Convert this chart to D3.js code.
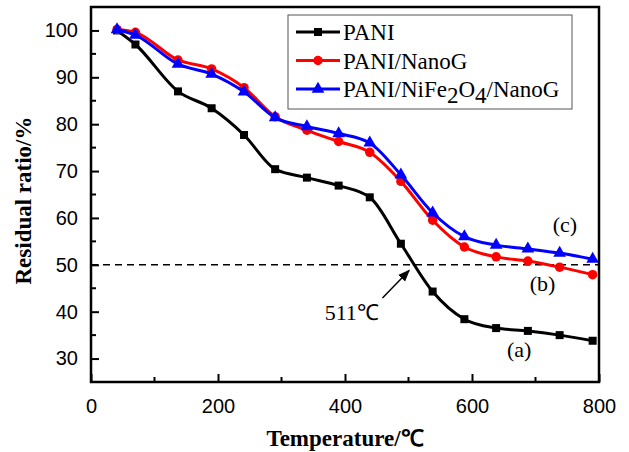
<!DOCTYPE html>
<html>
<head>
<meta charset="utf-8">
<script src="https://cdn.jsdelivr.net/npm/d3@7"></script>
<style>
  body { margin: 0; background: #fff; }
  svg { display: block; }
</style>
</head>
<body>
<svg id="chart" width="629" height="452"></svg>
<script>
// temperatures (°C) shared by all three runs
const temps = [41, 70, 137, 190, 241, 290, 340, 390, 439, 488, 538, 588, 638, 688, 738, 790]
const pani = [100, 97.0, 87.0, 83.4, 77.7, 70.4, 68.6, 66.9, 64.4, 54.5, 44.3, 38.4, 36.5, 35.9, 35.0, 33.8]
const paniNanoG = [100.2, 99.6, 93.7, 91.8, 87.8, 81.6, 78.7, 76.3, 74.0, 67.8, 59.5, 53.8, 51.7, 50.8, 49.5, 47.9]
const paniNiFe = [100.2, 99.0, 92.8, 90.7, 86.9, 81.4, 79.5, 78.0, 76.0, 69.2, 61.1, 56.0, 54.2, 53.4, 52.5, 51.2]
const xTicks = [0, 200, 400, 600, 800]
const yTicks = [30, 40, 50, 60, 70, 80, 90, 100]

const series = [
  { name: "PANI", values: pani, color: "#000000", marker: "square" },
  { name: "PANI/NanoG", values: paniNanoG, color: "#ff0000", marker: "circle" },
  { name: "PANI/NiFe2O4/NanoG", values: paniNiFe, color: "#0000ff", marker: "triangle" }
]

const margin = { left: 91, top: 7, right: 30, bottom: 70 }
const width = 629, height = 452
const svg = d3.select("#chart")

const x = d3.scaleLinear().domain([0, 800]).range([margin.left, width - margin.right])
const y = d3.scaleLinear().domain([25, 105]).range([height - margin.bottom, margin.top])

const sans = "'Liberation Sans', Arial, sans-serif"
const serif = "'Liberation Serif', 'Times New Roman', serif"

// dashed 50% reference line
svg.append("line")
  .attr("x1", x(0)).attr("x2", x(800))
  .attr("y1", y(50)).attr("y2", y(50))
  .attr("stroke", "#000").attr("stroke-width", 1.5)
  .attr("stroke-dasharray", "7,5")

function markerPath(type) {
  if (type === "square") return d3.symbol(d3.symbolSquare, 64)()
  if (type === "circle") return d3.symbol(d3.symbolCircle, 70)()
  return d3.symbol(d3.symbolTriangle, 70)()
}

const line = d3.line()
  .x((d, i) => x(temps[i]))
  .y(d => y(d))
  .curve(d3.curveMonotoneX)

for (const s of series) {
  svg.append("path")
    .datum(s.values)
    .attr("fill", "none")
    .attr("stroke", s.color)
    .attr("stroke-width", 3)
    .attr("d", line)

  svg.selectAll(null)
    .data(s.values)
    .enter()
    .append("path")
    .attr("transform", (d, i) => `translate(${x(temps[i])},${y(d)})`)
    .attr("d", markerPath(s.marker))
    .attr("fill", s.color)
}

// axes: ticks point inward
const xAxis = d3.axisBottom(x).tickValues(xTicks).tickSizeInner(-8).tickSizeOuter(0).tickPadding(17)
const yAxis = d3.axisLeft(y).tickValues(yTicks).tickSizeInner(-8).tickSizeOuter(0).tickPadding(13)

const gx = svg.append("g").attr("transform", `translate(0,${y(25)})`).call(xAxis)
const gy = svg.append("g").attr("transform", `translate(${x(0)},0)`).call(yAxis)

for (const g of [gx, gy]) {
  g.select(".domain").remove()
  g.selectAll(".tick line").attr("stroke", "#000").attr("stroke-width", 2)
  g.selectAll(".tick text")
    .attr("fill", "#000")
    .style("font-family", sans)
    .style("font-size", "20px")
}
gx.selectAll(".tick text").attr("dy", "0.71em")

// minor ticks
svg.append("g").selectAll("line")
  .data([100, 300, 500, 700])
  .enter().append("line")
  .attr("x1", d => x(d)).attr("x2", d => x(d))
  .attr("y1", y(25)).attr("y2", y(25) - 5)
  .attr("stroke", "#000").attr("stroke-width", 2)

svg.append("g").selectAll("line")
  .data([35, 45, 55, 65, 75, 85, 95])
  .enter().append("line")
  .attr("x1", x(0)).attr("x2", x(0) + 5)
  .attr("y1", d => y(d)).attr("y2", d => y(d))
  .attr("stroke", "#000").attr("stroke-width", 2)

// frame
svg.append("rect")
  .attr("x", x(0)).attr("y", y(105))
  .attr("width", x(800) - x(0)).attr("height", y(25) - y(105))
  .attr("fill", "none").attr("stroke", "#000").attr("stroke-width", 2.5)

// axis titles
svg.append("text")
  .attr("x", (x(0) + x(800)) / 2).attr("y", 446)
  .attr("text-anchor", "middle")
  .style("font-family", serif).style("font-size", "23px").style("font-weight", "bold")
  .text("Temperature/℃")

svg.append("text")
  .attr("transform", `translate(31,${(y(25) + y(105)) / 2 + 6}) rotate(-90)`)
  .attr("text-anchor", "middle")
  .style("font-family", serif).style("font-size", "23px").style("font-weight", "bold")
  .text("Residual ratio/%")

// annotations
svg.append("defs").append("marker")
  .attr("id", "arrow")
  .attr("viewBox", "0 0 10 10")
  .attr("refX", 9).attr("refY", 5)
  .attr("markerWidth", 8).attr("markerHeight", 8)
  .attr("orient", "auto")
  .append("path").attr("d", "M0,1 L10,5 L0,9 Z").attr("fill", "#000")

svg.append("line")
  .attr("x1", x(459)).attr("y1", y(42.9))
  .attr("x2", x(501)).attr("y2", y(48.8))
  .attr("stroke", "#000").attr("stroke-width", 1.5)
  .attr("marker-end", "url(#arrow)")

const notes = [
  { text: "511℃", tx: 368, ty: 38.2 },
  { text: "(a)", tx: 655, ty: 30.3 },
  { text: "(b)", tx: 691, ty: 44.4 },
  { text: "(c)", tx: 727, ty: 57.0 }
]
svg.selectAll(".note")
  .data(notes)
  .enter().append("text")
  .attr("class", "note")
  .attr("x", d => x(d.tx)).attr("y", d => y(d.ty))
  .style("font-family", serif).style("font-size", "22px")
  .text(d => d.text)

// legend
const legend = svg.append("g").attr("transform", "translate(288,15)")
legend.append("rect")
  .attr("width", 284).attr("height", 94)
  .attr("fill", "#fff").attr("stroke", "#555").attr("stroke-width", 1)

series.forEach((s, i) => {
  const row = legend.append("g").attr("transform", `translate(0,${17 + i * 28.5})`)
  row.append("line")
    .attr("x1", 8).attr("x2", 52)
    .attr("stroke", s.color).attr("stroke-width", 3)
  row.append("path")
    .attr("transform", "translate(30,0)")
    .attr("d", markerPath(s.marker))
    .attr("fill", s.color)
  const t = row.append("text")
    .attr("x", 55).attr("y", 8)
    .style("font-family", serif).style("font-size", "23px")
  if (s.name === "PANI/NiFe2O4/NanoG") {
    t.append("tspan").text("PANI/NiFe")
    t.append("tspan").attr("dy", 6).text("2")
    t.append("tspan").attr("dy", -6).text("O")
    t.append("tspan").attr("dy", 6).text("4")
    t.append("tspan").attr("dy", -6).text("/NanoG")
  } else {
    t.text(s.name)
  }
})
</script>
</body>
</html>
